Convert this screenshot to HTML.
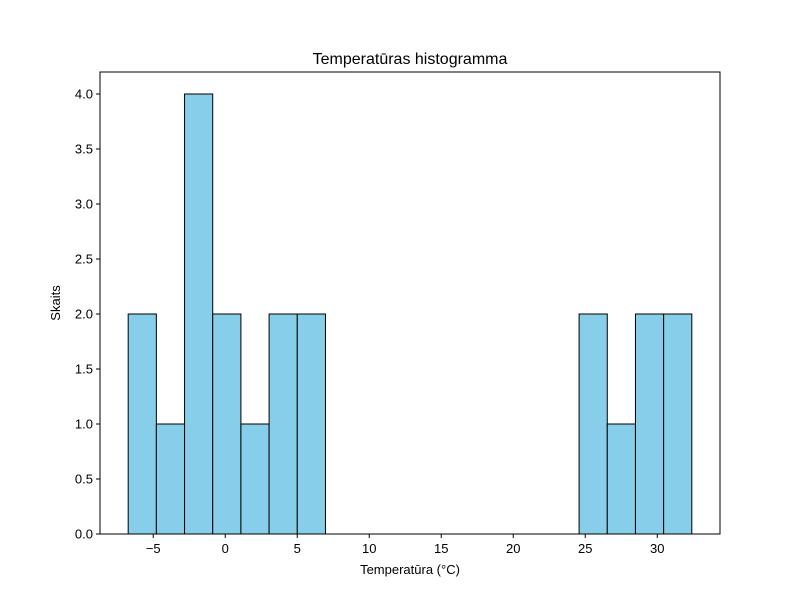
<!DOCTYPE html>
<html><head><meta charset="utf-8"><style>
body{margin:0;background:#fff}
svg{font-family:"Liberation Sans","DejaVu Sans",sans-serif}
</style></head><body>
<svg id="chart" width="800" height="600">
<rect width="800" height="600" fill="#fff"/>
<text x="410" y="64" text-anchor="middle" font-size="16">Temperatūras histogramma</text>
<text x="410" y="574" text-anchor="middle" font-size="13">Temperatūra (°C)</text>
<text x="60" y="303" text-anchor="middle" font-size="13" transform="rotate(-90 60 303)">Skaits</text>
<g id="bars"></g><g id="xt"></g><g id="yt"></g>
<rect x="100" y="72" width="620" height="462" fill="none" stroke="#000" stroke-width="1"/>
</svg>
<script>
const binStart = -6.74;
const binEnd = 32.4;
const counts = [2,1,4,2,1,2,2,0,0,0,0,0,0,0,0,0,2,1,2,2];
const xTicks = [-5,0,5,10,15,20,25,30];
const yTicks = [0,0.5,1.0,1.5,2.0,2.5,3.0,3.5,4.0];
const L=100,R=720,T=72,B=534;
const pad=(binEnd-binStart)*0.05;
const x0=binStart-pad,x1=binEnd+pad;
const X=v=>L+(v-x0)/(x1-x0)*(R-L);
const Y=v=>B-v/4.2*(B-T);
const NS="http://www.w3.org/2000/svg";
function mk(t,a,p){const e=document.createElementNS(NS,t);for(const k in a)e.setAttribute(k,a[k]);p.appendChild(e);return e;}
const bw=(binEnd-binStart)/counts.length;
const gb=document.getElementById('bars');
counts.forEach((c,i)=>{if(!c)return;
const a=X(binStart+i*bw),b=X(binStart+(i+1)*bw);
const r=mk('rect',{x:a,y:Y(c),width:b-a,height:Y(0)-Y(c),fill:'#87ceeb',stroke:'#000','stroke-width':1},gb);

});
const gx=document.getElementById('xt');
xTicks.forEach(v=>{const x=X(v);
const l=mk('line',{x1:x,x2:x,y1:B,y2:B+4,stroke:'#000'},gx);


const t=mk('text',{x:x,y:B+19,'text-anchor':'middle','font-size':13},gx);t.textContent=v<0?'−'+(-v):v;

});
const gy=document.getElementById('yt');
yTicks.forEach(v=>{const y=Y(v);
const l=mk('line',{x1:L-4,x2:L,y1:y,y2:y,stroke:'#000'},gy);


const t=mk('text',{x:L-7,y:y+4.5,'text-anchor':'end','font-size':13},gy);t.textContent=v.toFixed(1);

});
</script>
</body></html>
